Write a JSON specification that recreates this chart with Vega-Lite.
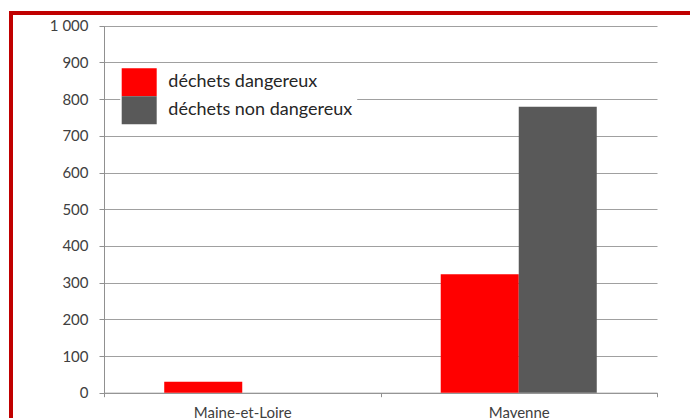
{
  "$schema": "https://vega.github.io/schema/vega-lite/v6.json",
  "autosize": {"type": "none"},
  "padding": {"left": 11, "top": 13, "right": 0, "bottom": 0},
  "width": 700,
  "height": 420,
  "background": "white",
  "config": {
    "view": {"stroke": "#C00000", "strokeWidth": 4},
    "font": "Lato"
  },
  "data": {
    "values": [
      {"departement": "Maine-et-Loire", "type": "déchets dangereux", "valeur": 30},
      {"departement": "Mayenne", "type": "déchets dangereux", "valeur": 323},
      {"departement": "Mayenne", "type": "déchets non dangereux", "valeur": 779}
    ]
  },
  "mark": {"type": "bar"},
  "encoding": {
    "x": {
      "field": "departement",
      "type": "nominal",
      "sort": ["Maine-et-Loire", "Mayenne"],
      "scale": {"domain": ["Maine-et-Loire", "Mayenne"], "range": [93, 646], "paddingInner": 0, "paddingOuter": 0},
      "axis": {
        "title": null,
        "offset": -40.3,
        "labelAngle": 0,
        "labelFontSize": 15,
        "labelColor": "#404040",
        "labelPadding": 9,
        "tickBand": "extent",
        "tickSize": 4,
        "tickColor": "#909090",
        "domainColor": "#909090",
        "grid": false
      }
    },
    "xOffset": {
      "field": "type",
      "type": "nominal",
      "scale": {"domain": ["déchets dangereux", "déchets non dangereux"], "paddingOuter": 0.772, "paddingInner": 0}
    },
    "y": {
      "field": "valeur",
      "type": "quantitative",
      "scale": {"domain": [0, 1000], "range": [379.7, 12.7], "nice": false},
      "axis": {
        "title": null,
        "offset": -93,
        "values": [0, 100, 200, 300, 400, 500, 600, 700, 800, 900, 1000],
        "labelExpr": "replace(format(datum.value, ','), ',', ' ')",
        "labelFontSize": 15,
        "labelColor": "#404040",
        "labelPadding": 11,
        "tickSize": 5,
        "tickColor": "#909090",
        "domainColor": "#909090",
        "grid": true,
        "gridColor": "#a0a0a0",
        "gridWidth": 1.2
      }
    },
    "color": {
      "field": "type",
      "type": "nominal",
      "scale": {"domain": ["déchets dangereux", "déchets non dangereux"], "range": ["#FF0000", "#595959"]},
      "legend": {
        "title": null,
        "orient": "none",
        "legendX": 109.2,
        "legendY": 50.3,
        "padding": 5,
        "fillColor": "white",
        "symbolType": "M-1.25,-1H1.25V1H-1.25Z",
        "symbolSize": 784,
        "symbolStrokeWidth": 0,
        "symbolOpacity": 1,
        "rowPadding": 0,
        "labelOffset": 15.1,
        "labelFontSize": 18,
        "labelColor": "#262626",
        "labelLimit": 400
      }
    }
  }
}
